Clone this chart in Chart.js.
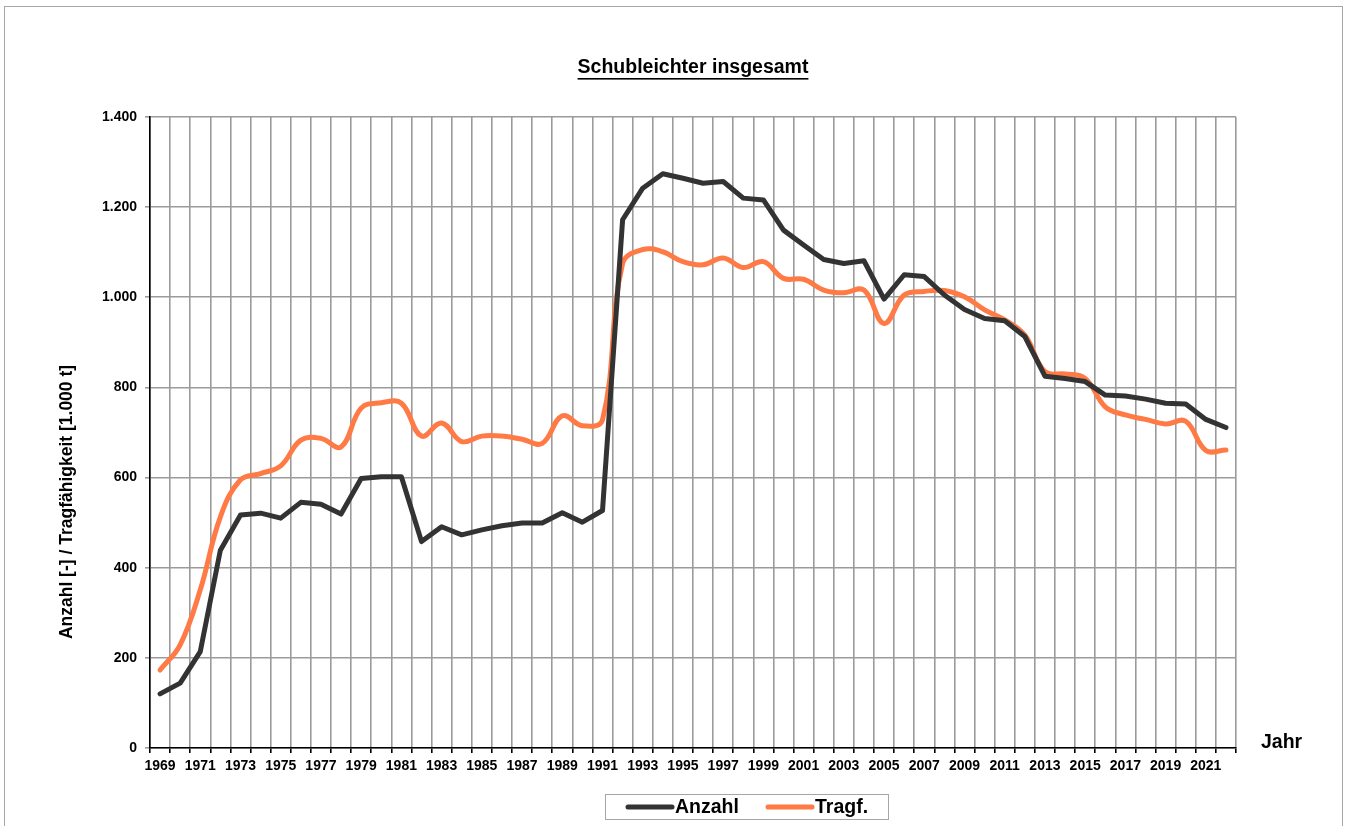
<!DOCTYPE html>
<html>
<head>
<meta charset="utf-8">
<script src="https://cdn.jsdelivr.net/npm/chart.js@4/dist/chart.umd.min.js"></script>
<style>
  html, body { margin: 0; padding: 0; background: #fff; }
  #wrap { width: 1352px; height: 826px; position: relative; }
</style>
</head>
<body>
<div id="wrap"><canvas id="myChart" width="1352" height="826"></canvas></div>
<script>
var years = ['1969','1970','1971','1972','1973','1974','1975','1976','1977','1978',
  '1979','1980','1981','1982','1983','1984','1985','1986','1987','1988',
  '1989','1990','1991','1992','1993','1994','1995','1996','1997','1998',
  '1999','2000','2001','2002','2003','2004','2005','2006','2007','2008',
  '2009','2010','2011','2012','2013','2014','2015','2016','2017','2018',
  '2019','2020','2021','2022'];

var anzahl = [120,144,214,439,517,521,510,545,541,519,598,602,602,458,491,
  473,484,493,499,499,522,501,527,
  1172,1242,1274,1264,1253,1257,1220,1216,1149,1116,1084,1075,1081,996,
  1050,1046,1005,973,953,948,913,825,820,813,783,781,774,765,763,729,711];

var tragf = [173,229,351,513,595,609,626,683,687,668,754,766,765,692,721,
  680,692,692,685,676,737,715,728,
  1075,1106,1101,1079,1072,1087,1066,1079,1042,1040,1016,1010,1016,942,
  1005,1013,1015,1001,972,950,916,835,830,820,757,739,729,719,725,660,661];

var yTicks = [0,200,400,600,800,1000,1200,1400];

var chartTitle = 'Schubleichter insgesamt';
var yTitle = 'Anzahl [-] / Tragfähigkeit [1.000 t]';
var xTitle = 'Jahr';

var FONT = '"Liberation Sans", Arial, sans-serif';

function fmt(v) {
  return String(v).replace(/\B(?=(\d{3})+(?!\d))/g, '.');
}

// title, axis titles, legend box and frame
var decor = {
  id: 'decor',
  afterDraw: function (chart) {
    var c = chart.ctx;
    c.save();
    // outer frame
    c.strokeStyle = '#a6a6a6';
    c.lineWidth = 1;
    c.strokeRect(4.5, 6.5, 1338, 830);

    c.fillStyle = '#000';
    c.textBaseline = 'middle';
    // title
    c.font = 'bold 19.5px ' + FONT;
    c.textAlign = 'center';
    c.fillText(chartTitle, 693, 68);
    var w = c.measureText(chartTitle).width;
    c.fillRect(693 - w / 2, 78, w, 1.6);

    // x title
    c.textAlign = 'left';
    c.fillText(xTitle, 1261, 743);

    // y title
    c.save();
    c.translate(67, 502);
    c.rotate(-Math.PI / 2);
    c.textAlign = 'center';
    c.font = 'bold 17.5px ' + FONT;
    c.fillText(yTitle, 0, 0);
    c.restore();

    // legend
    c.strokeStyle = '#a6a6a6';
    c.lineWidth = 1;
    c.strokeRect(605.5, 794.5, 283, 25);
    c.font = 'bold 19.5px ' + FONT;
    c.lineCap = 'round';
    var items = chart.data.datasets;
    var starts = [628, 768];
    for (var i = 0; i < items.length; i++) {
      c.strokeStyle = items[i].borderColor;
      c.lineWidth = 5;
      c.beginPath();
      c.moveTo(starts[i], 807);
      c.lineTo(starts[i] + 44, 807);
      c.stroke();
      c.fillStyle = '#000';
      c.textAlign = 'left';
      c.fillText(items[i].label, starts[i] + 47, 808);
    }
    c.restore();
  }
};

var ctx = document.getElementById('myChart');
var myChart = new Chart(ctx, {
  type: 'line',
  data: {
    labels: years,
    datasets: [
      {
        label: 'Anzahl',
        data: anzahl,
        borderColor: '#333333',
        backgroundColor: '#333333',
        borderWidth: 5,
        tension: 0,
        pointRadius: 0,
        borderCapStyle: 'round',
        borderJoinStyle: 'round'
      },
      {
        label: 'Tragf.',
        data: tragf,
        borderColor: '#FF7A45',
        backgroundColor: '#FF7A45',
        borderWidth: 5,
        tension: 0.4,
        pointRadius: 0,
        borderCapStyle: 'round',
        borderJoinStyle: 'round'
      }
    ]
  },
  options: {
    responsive: false,
    animation: false,
    layout: { padding: { left: 0, top: 117, right: 116, bottom: 0 } },
    plugins: {
      legend: { display: false },
      title: { display: false },
      tooltip: { enabled: false }
    },
    scales: {
      x: {
        type: 'category',
        offset: true,
        afterFit: function (s) { s.height = 78; },
        grid: {
          offset: true,
          color: '#9b9b9b',
          lineWidth: 1.6,
          tickLength: 5,
          tickColor: '#000'
        },
        border: { color: '#000', width: 1.6 },
        ticks: {
          autoSkip: false,
          maxRotation: 0,
          padding: 5,
          color: '#000',
          font: { family: FONT, size: 14, weight: 'bold' },
          callback: function (v, i) { return i % 2 === 0 ? years[i] : ''; }
        }
      },
      y: {
        min: 0,
        max: 1400,
        afterFit: function (s) { s.width = 150; },
        afterBuildTicks: function (s) { s.ticks = yTicks.map(function (v) { return { value: v }; }); },
        grid: {
          color: '#9b9b9b',
          lineWidth: 1.6,
          tickLength: 5,
          tickColor: '#9b9b9b'
        },
        border: { color: '#000', width: 1.6 },
        ticks: {
          padding: 8,
          color: '#000',
          font: { family: FONT, size: 14, weight: 'bold' },
          callback: function (v) { return fmt(v); }
        }
      }
    }
  },
  plugins: [decor]
});
</script>
</body>
</html>
